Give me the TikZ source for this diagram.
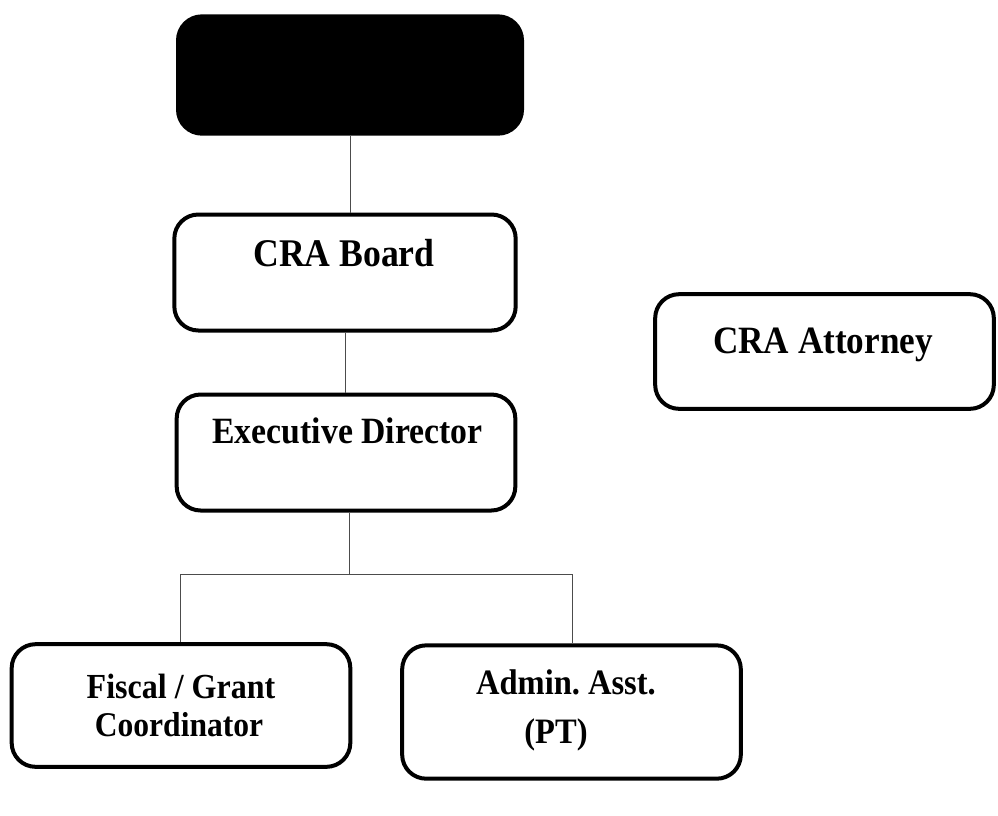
\documentclass[tikz,border=0pt]{standalone}
\usepackage{fontspec}
\setmainfont{Liberation Serif}
\newfontfamily\lblfont[FakeStretch=0.91]{Liberation Serif}
\frenchspacing
\begin{document}
\begin{tikzpicture}[x=0.75pt,y=-0.75pt,
  box/.style={draw=black,line width=3pt,rounded corners=18pt,inner sep=0pt,fill=white},
  topbox/.style={box,fill=black},
  conn/.style={draw=black!70,line width=0.7pt},
  lbl/.style={anchor=base,inner sep=0pt}]
\useasboundingbox (0,0) rectangle (998,815);
% boxes
\node[topbox,minimum width=258pt,minimum height=88pt] (top) at (350,75) {};
\node[box,minimum width=256pt,minimum height=87pt] (board) at (345,272.5) {};
\node[box,minimum width=254pt,minimum height=86pt] (att) at (824.5,351.5) {};
\node[box,minimum width=254pt,minimum height=87pt] (exec) at (346,452.5) {};
\node[box,minimum width=254pt,minimum height=92pt] (fiscal) at (181,705.5) {};
\node[box,minimum width=254pt,minimum height=100pt] (admin) at (571.5,712) {};
% texts
\node[lbl,font=\lblfont\bfseries\fontsize{29.4pt}{32pt}\selectfont] (boardT) at (344,266) {CRA Board};
\node[lbl,font=\lblfont\bfseries\fontsize{27.8pt}{32pt}\selectfont] (execT) at (347.5,443) {Executive Director};
\node[lbl,font=\lblfont\bfseries\fontsize{29pt}{32pt}\selectfont] (attT) at (823,353) {CRA Attorney};
\node[lbl,font=\lblfont\bfseries\fontsize{26.4pt}{30pt}\selectfont] (fiscalT1) at (181,698) {Fiscal / Grant};
\node[lbl,font=\lblfont\bfseries\fontsize{26pt}{30pt}\selectfont] (fiscalT2) at (179,736) {Coordinator};
\node[lbl,font=\lblfont\bfseries\fontsize{26.8pt}{30pt}\selectfont] (adminT1) at (566,694) {Admin. Asst.};
\node[lbl,font=\lblfont\bfseries\fontsize{26.8pt}{30pt}\selectfont] (adminT2) at (556,743) {(PT)};
% connectors
\coordinate (j) at (349,574);
\coordinate (jl) at (180,574);
\coordinate (jr) at (572,574);
\draw[conn] (top.south) -- (top.south |- board.north);
\draw[conn] (board.south) -- (board.south |- exec.north);
\draw[conn] (exec.south -| j) -- (j);
\draw[conn] (jl) -- (jr);
\draw[conn] (jl) -- (jl |- fiscal.north);
\draw[conn] (jr) -- (jr |- admin.north);
\end{tikzpicture}
\end{document}
